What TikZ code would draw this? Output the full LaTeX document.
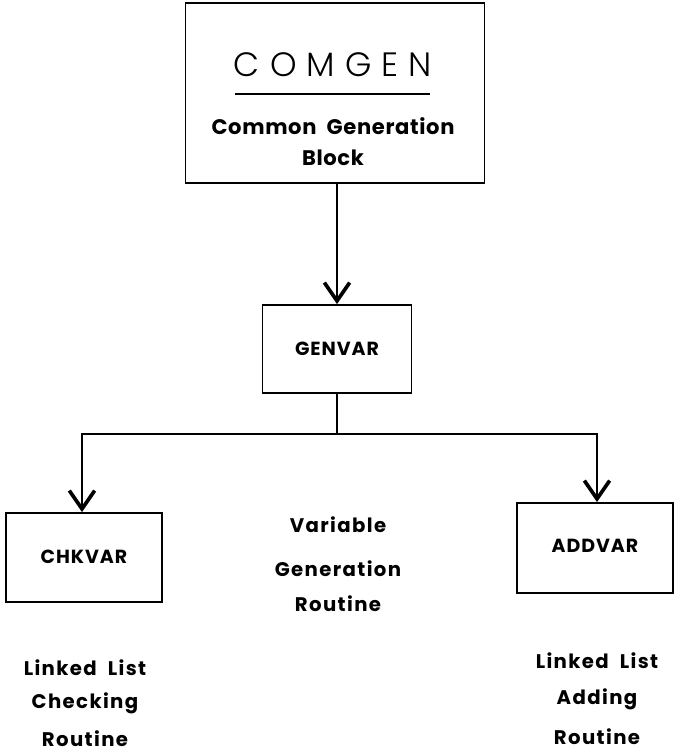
\documentclass[tikz,border=0pt]{standalone}
\usepackage{fontspec}
\setmainfont{Poppins}
\newfontfamily\thinfont{Poppins Light}
\usepackage{tikz}
\usetikzlibrary{arrows.meta,positioning}

\tikzset{
  box/.style={shape=rectangle, draw=black, line width=1.3pt},
  label/.style={font=\fontsize{14}{16}\selectfont\bfseries\addfontfeatures{LetterSpace=7}, align=center},
  boxlabel/.style={font=\fontsize{13.5}{16}\selectfont\bfseries\addfontfeatures{LetterSpace=5}},
  link/.style={line width=1.2pt},
}

\begin{document}
\begin{tikzpicture}[x=0.025cm, y=-0.025cm,
    >={Straight Barb[length=13pt,width=18pt,line width=2.6pt]}]
    \useasboundingbox (0,0) rectangle (674,756);
    \node[box, minimum width=299*0.025cm, minimum height=180*0.025cm] at (335,93) (comgen) {};
    \node[font=\fontsize{24}{28}\selectfont\thinfont\addfontfeatures{LetterSpace=30}] at (333,65) (title) {COMGEN};
    \draw[line width=1.2pt] (235,94) -- (430,94);
    \node[align=center, font=\fontsize{15}{16}\selectfont\bfseries\addfontfeatures{LetterSpace=3}] at (333,142) (subtitle) {Common\ \ Generation\\[6pt]Block};
    \node[box, minimum width=149*0.025cm, minimum height=88*0.025cm] at (337,349) (genvar) {};
    \node[boxlabel] at (337,349) (genvarname) {GENVAR};
    \node[box, minimum width=156*0.025cm, minimum height=89*0.025cm] at (84,557.5) (chkvar) {};
    \node[boxlabel] at (84,557) (chkvarname) {CHKVAR};
    \node[box, minimum width=156*0.025cm, minimum height=90*0.025cm] at (595,548) (addvar) {};
    \node[boxlabel] at (595,546) (addvarname) {ADDVAR};
    \coordinate (split) at (337,434);
    \draw[link, ->] (comgen.south -| genvar.north) -- (genvar.north);
    \draw[link] (genvar.south) -- (split);
    \draw[link, ->] (split) -| ([xshift=-2*0.025cm]chkvar.north);
    \draw[link, ->] (split) -| ([xshift=2*0.025cm]addvar.north);
    \node[label] at (338,564) (varlabel) {Variable\\[15pt]Generation\\[9pt]Routine};
    \node[label] at (85,703) (chklabel) {Linked\ \ List\\[7.5pt]Checking\\[11pt]Routine};
    \node[label] at (597,699) (addlabel) {Linked\ \ List\\[9.5pt]Adding\\[12.5pt]Routine};
\end{tikzpicture}
\end{document}
